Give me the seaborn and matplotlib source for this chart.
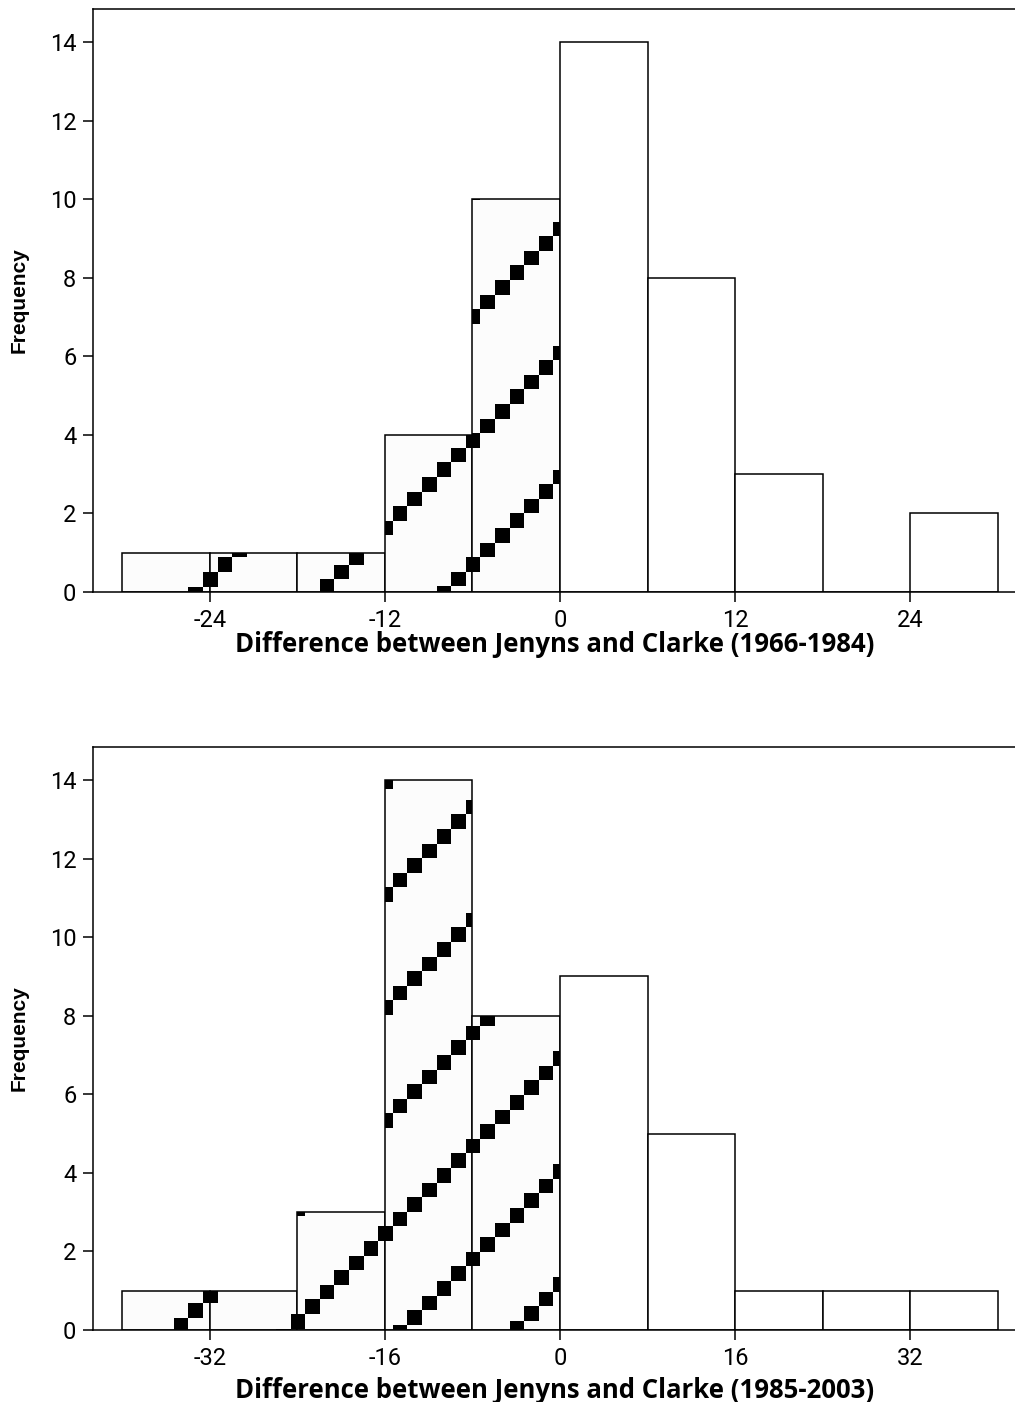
import numpy as np
import pandas as pd
import matplotlib
matplotlib.use("Agg")
import matplotlib.pyplot as plt
import seaborn as sns
from matplotlib.patches import Rectangle
from matplotlib.collections import PatchCollection

# ---- data ----
top_edges = [-30, -24, -18, -12, -6, 0, 6, 12, 18, 24, 30]
top_mids = [-27, -21, -15, -9, -3, 3, 9, 15, 21, 27]
top_counts = [1, 1, 1, 4, 10, 14, 8, 3, 0, 2]

bot_edges = [-40, -32, -24, -16, -8, 0, 8, 16, 24, 32, 40]
bot_mids = [-36, -28, -20, -12, -4, 4, 12, 20, 28, 36]
bot_counts = [1, 1, 3, 14, 8, 9, 5, 1, 1, 1]

top_ticks = [-24, -12, 0, 12, 24]
bot_ticks = [-32, -16, 0, 16, 32]
y_ticks = [0, 2, 4, 6, 8, 10, 12, 14]

top_xlabel = "Difference between Jenyns and Clarke (1966-1984)"
bot_xlabel = "Difference between Jenyns and Clarke (1985-2003)"
ylabel = "Frequency"

# ---- style ----
sns.set_theme(style="white")
plt.rcParams["font.family"] = ["Roboto", "DejaVu Sans"]
plt.rcParams["axes.linewidth"] = 1.1

W, H = 1015, 1402
fig = plt.figure(figsize=(W / 100, H / 100), dpi=100)

left_px, right_px = 93, 1027
panels = [
    dict(edges=top_edges, mids=top_mids, counts=top_counts, ticks=top_ticks,
         xlim=(-32, 32), xlabel=top_xlabel, top=9, bottom=592,
         period=124, c0=1037.5, xlabel_top=631),
    dict(edges=bot_edges, mids=bot_mids, counts=bot_counts, ticks=bot_ticks,
         xlim=(-42.667, 42.667), xlabel=bot_xlabel, top=747, bottom=1330,
         period=113, c0=1506.0, xlabel_top=1377),
]

for p in panels:
    ax_h = p["bottom"] - p["top"]
    ax_w = right_px - left_px
    ax = fig.add_axes([left_px / W, (H - p["bottom"]) / H, ax_w / W, ax_h / H])
    df = pd.DataFrame({"x": p["mids"], "n": p["counts"]})
    sns.histplot(data=df, x="x", weights="n", bins=p["edges"], ax=ax,
                 stat="count", color="white", edgecolor="black",
                 linewidth=1.1, alpha=1.0)
    ax.set_xlim(*p["xlim"])
    ax.set_ylim(0, 14.84)
    ax.set_xticks(p["ticks"])
    ax.set_xticklabels([str(t) for t in p["ticks"]])
    ax.set_yticks(y_ticks)
    ax.tick_params(direction="out", length=7, width=1.1, labelsize=17,
                   pad=5, color="black", labelcolor="black",
                   bottom=True, left=True)
    for side in ["left", "top", "bottom"]:
        ax.spines[side].set_visible(True)
        ax.spines[side].set_color("black")
    ax.spines["right"].set_visible(False)
    ax.set_xlabel(p["xlabel"], fontsize=18.5, fontweight="bold",
                  family=["Open Sans", "DejaVu Sans"], color="black")
    ax.xaxis.set_label_coords(0.5 - 5 / ax_w, -(p["xlabel_top"] - p["bottom"]) / ax_h)
    ax.set_ylabel(ylabel, fontsize=15, fontweight="bold",
                  family=["Liberation Sans", "DejaVu Sans"], color="black")
    ax.yaxis.set_label_coords(-(left_px - 29) / ax_w, 0.5)

    # pattern fill (diagonal runs of black squares) for the negative bins
    fig.canvas.draw()
    inv = ax.transData.inverted()
    s = 14.6
    for patch in list(ax.patches):
        x0 = patch.get_x()
        if x0 >= 0:
            continue
        patch.set_facecolor("#fcfcfc")
        x1 = x0 + patch.get_width()
        h = patch.get_height()
        (bx0, by0) = ax.transData.transform((x0, 0))
        (bx1, by1) = ax.transData.transform((x1, h))
        iy_top, iy_bot = H - by1, H - by0
        rects = []
        i_min = int(np.floor((bx0 - s - 473) / s))
        i_max = int(np.ceil((bx1 + s - 473) / s))
        for i in range(i_min, i_max + 1):
            cx = 473 + s * i
            for k in range(-30, 30):
                c = p["c0"] + p["period"] * k
                cy = c - cx
                if cy < iy_top - s or cy > iy_bot + s:
                    continue
                (dx0, dy0) = inv.transform((cx - s / 2, H - (cy + s / 2)))
                (dx1, dy1) = inv.transform((cx + s / 2, H - (cy - s / 2)))
                rects.append(Rectangle((dx0, dy0), dx1 - dx0, dy1 - dy0))
        if rects:
            pc = PatchCollection(rects, facecolor="black", edgecolor="none",
                                 zorder=patch.get_zorder() + 0.1)
            ax.add_collection(pc)
            pc.set_clip_path(patch)

fig.savefig("out.png", dpi=100, facecolor="white")
